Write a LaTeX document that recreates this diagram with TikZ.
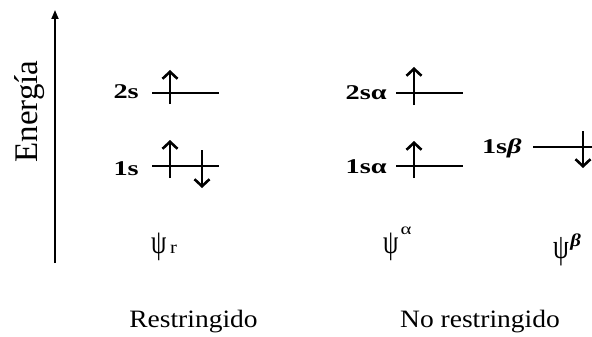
\documentclass[tikz,border=0pt]{standalone}
\usepackage{fontspec}
\setmainfont{Liberation Serif}
\usetikzlibrary{arrows.meta}
\newcommand{\bigpsi}[1]{\scalebox{0.72}[1]{\fontsize{#1}{#1}\selectfont ψ}}
\tikzset{
  level/.style={line width=2.7pt},
  spin/.style={line width=2.6pt,-{Straight Barb[length=7pt,width=15pt]}},
  axis/.style={line width=1.8pt,-{Triangle[length=9pt,width=7pt]}},
  lbl/.style={inner sep=0pt,anchor=base east,font=\bfseries\fontsize{21}{21}\selectfont,xscale=1.35},
  psi/.style={inner sep=0pt,anchor=base west},
  foot/.style={inner sep=0pt,anchor=base,font=\fontsize{25}{25}\selectfont,xscale=1.1}
}
\begin{document}
\begin{tikzpicture}[x=1pt,y=-1pt]
\useasboundingbox (0,0) rectangle (592,337);
% axis
\coordinate (ax0) at (55,263);
\coordinate (ax1) at (55,10);
\draw[axis] (ax0) -- (ax1);
\node[rotate=90,anchor=base,inner sep=0pt,font=\fontsize{33}{33}\selectfont] (en) at (37.5,111.5) {Energía};
% restricted
\coordinate (l2a) at (152,93);  \coordinate (l2b) at (219,93);
\coordinate (l1a) at (152,166); \coordinate (l1b) at (219,166);
\draw[level] (l2a) -- (l2b);
\draw[level] (l1a) -- (l1b);
\coordinate (u2s0) at (170,104); \coordinate (u2s1) at (170,70);
\coordinate (u1s0) at (170,178); \coordinate (u1s1) at (170,140);
\coordinate (d1s0) at (202,150); \coordinate (d1s1) at (202,188);
\draw[spin] (u2s0) -- (u2s1);
\draw[spin] (u1s0) -- (u1s1);
\draw[spin] (d1s0) -- (d1s1);
\node[lbl] (t2s) at (139,99) {2s};
\node[lbl] (t1s) at (139,175) {1s};
% unrestricted alpha
\coordinate (a2a) at (396,93);  \coordinate (a2b) at (463,93);
\coordinate (a1a) at (396,166); \coordinate (a1b) at (463,166);
\draw[level] (a2a) -- (a2b);
\draw[level] (a1a) -- (a1b);
\coordinate (ua20) at (414,105); \coordinate (ua21) at (414,67);
\coordinate (ua10) at (414,178); \coordinate (ua11) at (414,141);
\draw[spin] (ua20) -- (ua21);
\draw[spin] (ua10) -- (ua11);
\node[lbl] (t2sa) at (387,99.5) {2sα};
\node[lbl] (t1sa) at (387,173) {1sα};
% unrestricted beta
\coordinate (b1a) at (533,147); \coordinate (b1b) at (592,147);
\draw[level] (b1a) -- (b1b);
\coordinate (db0) at (583,131); \coordinate (db1) at (583,168);
\draw[spin] (db0) -- (db1);
\node[lbl] (t1sb) at (522,153) {1s\textit{β}};
% psi labels
\node[psi] (pr) at (151,253) {\bigpsi{34}\hspace{3.5pt}\scalebox{1.15}[1]{\fontsize{18}{18}\selectfont r}};
\node[psi] (pa) at (383,253) {\bigpsi{34}\hspace{2pt}\raisebox{19pt}{\scalebox{1.3}[1]{\fontsize{16}{16}\selectfont α}}};
\node[psi] (pb) at (553,258) {\bigpsi{35}\hspace{1.5pt}\raisebox{12pt}{\scalebox{1.15}[1]{\bfseries\itshape\fontsize{18}{18}\selectfont β}}};
% footers
\node[foot] (fr) at (193.5,327) {Restringido};
\node[foot] (fn) at (480,327) {No restringido};
\end{tikzpicture}
\end{document}
